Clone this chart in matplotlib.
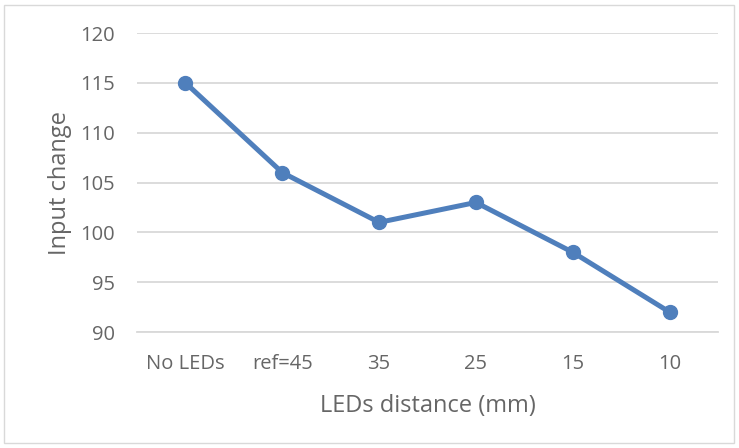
import matplotlib
matplotlib.use('Agg')
import matplotlib.pyplot as plt
from matplotlib.patches import Rectangle

categories = ['No LEDs', 'ref=45', '35', '25', '15', '10']
input_change = [115, 106, 101, 103, 98, 92]
y_ticks = [90, 95, 100, 105, 110, 115, 120]

TEXT = '#666666'
GRID = '#d9d9d9'
BLUE = '#4f7fbc'


def main():
    plt.rcParams['font.family'] = ['Open Sans', 'DejaVu Sans']
    fig = plt.figure(figsize=(7.39, 4.48), dpi=100)
    fig.patch.set_facecolor('white')
    # outer chart border
    fig.patches.append(Rectangle((4 / 739, 5 / 448), 730 / 739, 438 / 448,
                                 transform=fig.transFigure, fill=False,
                                 edgecolor=GRID, linewidth=1))

    ax = fig.add_axes([137 / 739, 1 - 332 / 448, 581 / 739, 299 / 448])
    x = list(range(len(categories)))
    ax.plot(x, input_change, color=BLUE, linewidth=3.6, marker='o',
            markersize=10, solid_capstyle='round', zorder=3)

    ax.set_xlim(-0.5, len(categories) - 0.5)
    ax.set_ylim(90, 120)
    ax.set_yticks(y_ticks)
    ax.set_xticks(x)
    ax.set_xticklabels(categories)
    ax.grid(axis='y', color=GRID, linewidth=1.3)
    ax.set_axisbelow(True)
    for s in ['top', 'right', 'left']:
        ax.spines[s].set_visible(False)
    ax.spines['bottom'].set_color(GRID)
    ax.spines['bottom'].set_linewidth(1.3)
    ax.tick_params(axis='both', length=0, labelsize=14.5, colors=TEXT)
    ax.tick_params(axis='x', pad=16)
    ax.tick_params(axis='y', pad=16)

    ax.set_xlabel('LEDs distance (mm)', fontsize=17, color=TEXT, labelpad=14)
    ax.set_ylabel('Input change', fontsize=17, color=TEXT, labelpad=5.5)

    fig.savefig('out.png', dpi=100)


if __name__ == '__main__':
    main()
